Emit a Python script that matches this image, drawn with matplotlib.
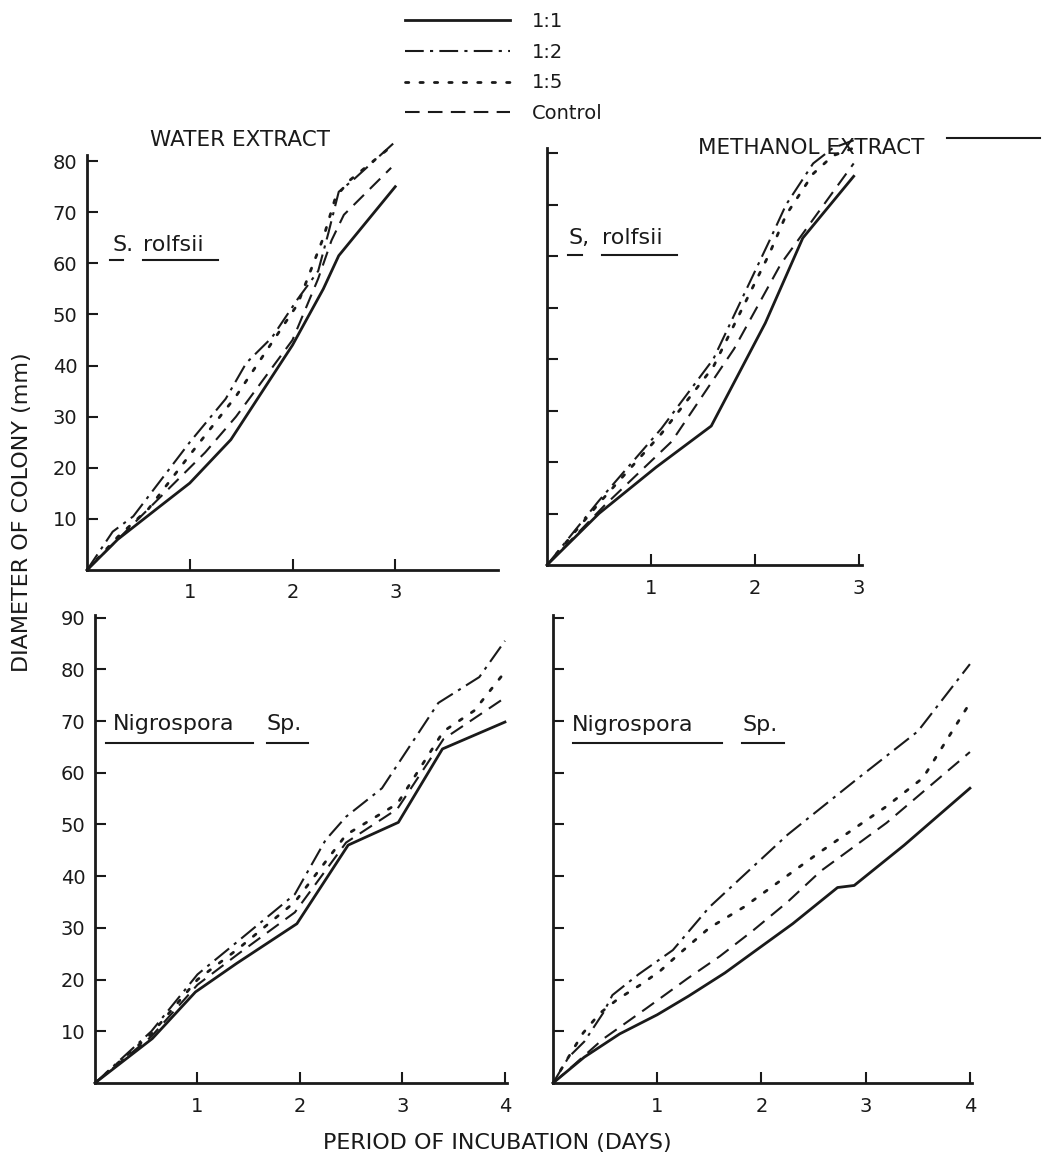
import matplotlib
matplotlib.use("Agg")
import matplotlib.pyplot as plt

W, H = 1043, 1165
INK = "#1a1a1a"
plt.rcParams["font.family"] = "DejaVu Sans"

# ---- values (days, colony diameter mm) ----
series = ["1:1", "1:2", "1:5", "Control"]

# water extract, S. rolfsii
wsr_d11 = [0, 0.3, 0.7, 1.0, 1.4, 2.0, 2.3, 2.45, 3.0]
wsr_11 = [0, 6, 12.3, 17, 25.5, 44, 55, 61.5, 75]
wsr_d12 = [0, 0.25, 0.45, 1.0, 1.35, 1.55, 1.8, 2.05, 2.25, 2.35, 2.45, 2.6, 3.0]
wsr_12 = [0, 7.5, 10.5, 25, 33.5, 40.5, 45.5, 53, 58.5, 66, 74, 76.5, 83.8]
wsr_d15 = [0, 0.3, 0.6, 1.0, 1.45, 1.85, 2.05, 2.3, 2.42, 2.56, 2.92]
wsr_15 = [0, 6.5, 12, 22.5, 34, 46, 52, 65, 73, 76.3, 82.2]
wsr_dc = [0, 0.3, 0.75, 1.15, 1.45, 2.0, 2.25, 2.38, 2.5, 2.96]
wsr_c = [0, 6, 15, 23, 30, 45, 57, 64.5, 69.5, 78.7]

# methanol extract, S. rolfsii
msr_d11 = [0, 0.5, 1.05, 1.58, 2.1, 2.46, 2.95]
msr_11 = [0, 10, 19, 27, 47, 63.5, 75.5]
msr_d12 = [0, 0.5, 1.1, 1.6, 2.14, 2.3, 2.56, 2.75, 2.95]
msr_12 = [0, 12.5, 26.5, 40, 63, 70, 78, 81, 82.5]
msr_d15 = [0, 0.5, 1.1, 1.6, 2.14, 2.3, 2.56, 2.75, 2.95]
msr_15 = [0, 12, 25.5, 38.5, 60.5, 68, 76, 79.5, 81]
msr_dc = [0, 0.55, 1.2, 1.8, 2.25, 2.95]
msr_c = [0, 11.5, 24, 42, 58.5, 78]

# water extract, Nigrospora sp.
wng_d11 = [0, 0.56, 0.98, 1.38, 1.97, 2.47, 2.96, 3.39, 4.0]
wng_11 = [0, 8.6, 17.6, 23.1, 30.8, 46, 50.4, 64.6, 69.8]
wng_d12 = [0, 0.55, 1.0, 1.4, 1.95, 2.25, 2.45, 2.8, 3.0, 3.35, 3.75, 4.0]
wng_12 = [0, 10, 21, 27.5, 36.5, 47, 51.5, 57, 63, 73.5, 78.5, 85.5]
wng_d15 = [0, 0.55, 1.0, 1.4, 1.95, 2.45, 2.95, 3.4, 3.7, 4.0]
wng_15 = [0, 9.5, 20, 26, 35, 48, 54, 68, 72, 79.5]
wng_dc = [0, 0.55, 1.0, 1.4, 1.95, 2.45, 2.95, 3.4, 4.0]
wng_c = [0, 9, 19, 25, 33, 46.5, 53, 66.5, 74.5]

# methanol extract, Nigrospora sp.
mng_d11 = [0, 0.3, 0.64, 1.0, 1.3, 1.65, 1.93, 2.3, 2.73, 2.89, 3.37, 4.0]
mng_11 = [0, 5, 9.5, 13.2, 16.8, 21.3, 25.4, 30.8, 37.8, 38.2, 46, 57]
mng_d12 = [0, 0.15, 0.3, 0.48, 0.57, 0.82, 1.15, 1.5, 2.25, 2.9, 3.5, 4.0]
mng_12 = [0, 5, 8, 13.5, 17, 21, 25.7, 34, 48, 58.5, 68, 81]
mng_d15 = [0, 0.19, 0.29, 0.45, 0.62, 0.84, 1.03, 1.2, 1.5, 1.83, 2.55, 3.2, 3.55, 4.0]
mng_15 = [0, 6.4, 9.7, 13.5, 16.2, 19, 21.7, 24.8, 30, 34, 44.5, 53.5, 59, 73.5]
mng_dc = [0, 0.1, 0.48, 0.9, 1.29, 1.6, 1.92, 2.25, 2.57, 3.2, 4.0]
mng_c = [0, 1.7, 8.5, 14.5, 20.2, 24.5, 29.5, 35, 41, 50.3, 64]

styles = {"1:1": dict(ls="-", lw=2.0),
          "1:2": dict(ls=(0, (9, 3, 1.5, 3)), lw=1.5),
          "1:5": dict(ls=(0, (1.2, 4)), lw=2.0, dash_capstyle="round"),
          "Control": dict(ls=(0, (7, 4)), lw=1.5)}


def rect(l, t, r, b):
    return [l / W, 1 - b / H, (r - l) / W, (b - t) / H]


def fx(x, y):
    return x / W, 1 - y / H


def hline(x0, x1, y, lw=1.5):
    fig.add_artist(plt.Line2D([x0 / W, x1 / W], [1 - y / H] * 2, color=INK, lw=lw))


fig = plt.figure(figsize=(W / 100, H / 100), dpi=100)

panels = [
    # rect px, xlim, ylim, xticks, yticks, y labels?, x pad, curves
    (rect(87, 155, 498, 570), 4.0, 81.2, [1, 2, 3], range(10, 81, 10), True, 9,
     [(wsr_d11, wsr_11), (wsr_d12, wsr_12), (wsr_d15, wsr_15), (wsr_dc, wsr_c)]),
    (rect(547, 148, 862, 565), 3.03, 81, [1, 2, 3], range(10, 81, 10), False, 10,
     [(msr_d11, msr_11), (msr_d12, msr_12), (msr_d15, msr_15), (msr_dc, msr_c)]),
    (rect(95, 615, 507, 1083), 4.02, 90.5, [1, 2, 3, 4], range(10, 91, 10), True, 10,
     [(wng_d11, wng_11), (wng_d12, wng_12), (wng_d15, wng_15), (wng_dc, wng_c)]),
    (rect(553, 615, 972, 1083), 4.02, 90.5, [1, 2, 3, 4], range(10, 91, 10), False, 10,
     [(mng_d11, mng_11), (mng_d12, mng_12), (mng_d15, mng_15), (mng_dc, mng_c)]),
]

axes = []
for r, xmax, ymax, xt, yt, ylab, xpad, curves in panels:
    ax = fig.add_axes(r)
    for name, (d, v) in zip(series, curves):
        ax.plot(d, v, color=INK, label=name, clip_on=False, **styles[name])
    ax.set_xlim(0, xmax)
    ax.set_ylim(0, ymax)
    for s in ("top", "right"):
        ax.spines[s].set_visible(False)
    for s in ("left", "bottom"):
        ax.spines[s].set_linewidth(2.0)
        ax.spines[s].set_color(INK)
    ax.set_xticks(xt)
    ax.set_xticklabels([str(t) for t in xt])
    ax.set_yticks(list(yt))
    ax.set_yticklabels([str(t) for t in yt] if ylab else [])
    ax.tick_params(direction="in", length=8, width=1.5, color=INK,
                   labelsize=14, labelcolor=INK)
    ax.tick_params(axis="x", pad=xpad)
    ax.tick_params(axis="y", pad=7)
    ax.set_facecolor("none")
    axes.append(ax)

# legend at the top
h, l = axes[0].get_legend_handles_labels()
fig.legend(h, l, loc="upper left", bbox_to_anchor=fx(405, 12), frameon=False,
           fontsize=14, handlelength=5.4, handletextpad=1.1, labelspacing=0.6,
           borderaxespad=0, borderpad=0, labelcolor=INK)

# headings
fig.text(*fx(240, 140), "WATER EXTRACT", ha="center", va="center",
         fontsize=15.5, color=INK)
fig.text(*fx(811, 148), "METHANOL EXTRACT", ha="center", va="center",
         fontsize=15.5, color=INK)
hline(947, 1040, 138)

# species names, underlined word by word
names = [([("S.", 112), ("rolfsii", 143)], 245, [(110, 123), (143, 218)], 260),
         ([("S,", 568), ("rolfsii", 602)], 238, [(568, 582), (602, 677)], 255),
         ([("Nigrospora", 113), ("Sp.", 267)], 724, [(106, 253), (267, 308)], 743),
         ([("Nigrospora", 572), ("Sp.", 742)], 725, [(573, 722), (742, 784)], 743)]
for words, y, segs, uy in names:
    for txt, x in words:
        fig.text(*fx(x, y), txt, ha="left", va="center", fontsize=16, color=INK)
    for a, b in segs:
        hline(a, b, uy)

# axis titles
fig.text(*fx(22, 512), "DIAMETER OF COLONY (mm)", rotation=90, ha="center",
         va="center", fontsize=16, color=INK)
fig.text(*fx(497, 1143), "PERIOD OF INCUBATION (DAYS)", ha="center",
         va="center", fontsize=16, color=INK)

fig.savefig("out.png", dpi=100, facecolor="white")
